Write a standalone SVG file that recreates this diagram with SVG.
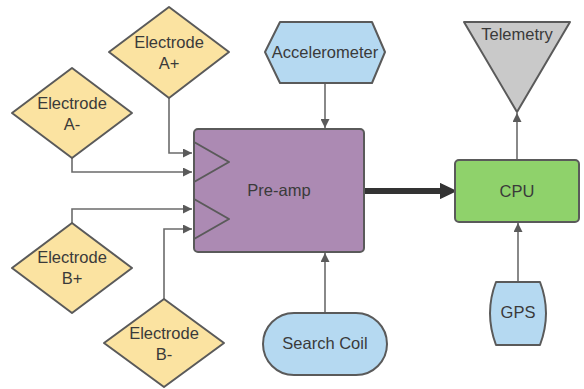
<svg xmlns="http://www.w3.org/2000/svg" width="584" height="389" viewBox="0 0 584 389">
<style>
  .n { stroke: #5a5a5a; stroke-width: 2; stroke-linejoin: round; }
  .dia { fill: #fbe3a1; }
  .blue { fill: #b5d9f1; }
  .t { font-family: "Liberation Sans", Arial, sans-serif; font-size: 16.5px; fill: #3a3a3a; text-anchor: middle; }
  .c { fill: none; stroke: #6b6b6b; stroke-width: 1.6; }
  .thick { fill: none; stroke: #333; stroke-width: 6; }
</style>
<defs>
  <marker id="ah" viewBox="0 0 10 10" refX="10" refY="5" markerWidth="10" markerHeight="9" markerUnits="userSpaceOnUse" orient="auto">
    <path d="M0,0 L10,5 L0,10 z" fill="#5a5a5a"/>
  </marker>
  <marker id="ahb" viewBox="0 0 10 10" refX="0" refY="5" markerWidth="16" markerHeight="17" markerUnits="userSpaceOnUse" orient="auto">
    <path d="M0,0.5 L9.5,5 L0,9.5 z" fill="#333" stroke="#333" stroke-width="1" stroke-linejoin="round"/>
  </marker>
</defs>
<g id="connectors">
  <path class="c" d="M169,98 V153 H192" marker-end="url(#ah)"/>
  <path class="c" d="M72,158 V172 H192" marker-end="url(#ah)"/>
  <path class="c" d="M72,223 V209 H192" marker-end="url(#ah)"/>
  <path class="c" d="M164,299 V229 H192" marker-end="url(#ah)"/>
  <path class="c" d="M325,83 V128" marker-end="url(#ah)"/>
  <path class="c" d="M325,313 V253" marker-end="url(#ah)"/>
  <path class="c" d="M517,160 V113" marker-end="url(#ah)"/>
  <path class="c" d="M518,282 V223" marker-end="url(#ah)"/>
  <path class="thick" d="M365,191 H440" marker-end="url(#ahb)"/>
</g>
<g id="preamp">
  <rect class="n" x="194" y="129" width="170" height="123" rx="4" fill="#ac8ab3"/>
  <path class="n" d="M194,142 L229,162 L194,182" fill="none"/>
  <path class="n" d="M194,199 L229,219 L194,239" fill="none"/>
  <text class="t" x="279" y="196">Pre-amp</text>
</g>
<g id="electrodeAplus">
  <polygon class="n dia" points="169,7 229,52 169,98 109,52"/>
  <text class="t" x="169" y="48">Electrode</text>
  <text class="t" x="169" y="69">A+</text>
</g>
<g id="electrodeAminus">
  <polygon class="n dia" points="72,68 132,113 72,158 12,113"/>
  <text class="t" x="72" y="109">Electrode</text>
  <text class="t" x="72" y="130">A-</text>
</g>
<g id="electrodeBplus">
  <polygon class="n dia" points="72,223 132,268 72,313 12,268"/>
  <text class="t" x="72" y="263">Electrode</text>
  <text class="t" x="72" y="284">B+</text>
</g>
<g id="electrodeBminus">
  <polygon class="n dia" points="164,299 224,343 164,387 104,343"/>
  <text class="t" x="164" y="339">Electrode</text>
  <text class="t" x="164" y="360">B-</text>
</g>
<g id="accelerometer">
  <polygon class="n blue" points="280,22 372,22 385,52 372,83 280,83 265,52"/>
  <text class="t" x="325" y="58">Accelerometer</text>
</g>
<g id="searchcoil">
  <rect class="n blue" x="263" y="313" width="124" height="62" rx="31"/>
  <text class="t" x="325" y="349">Search Coil</text>
</g>
<g id="cpu">
  <rect class="n" x="455" y="160" width="124" height="62" rx="4" fill="#8fd26b"/>
  <text class="t" x="517" y="197" fill="#3d4a3a">CPU</text>
</g>
<g id="telemetry">
  <polygon class="n" points="464,22 570,22 517,112" fill="#c9c9c9"/>
  <text class="t" x="517" y="40">Telemetry</text>
</g>
<g id="gps">
  <path class="n blue" d="M496,282 L540,282 Q552,313 540,345 L496,345 Q484,313 496,282 Z"/>
  <text class="t" x="518" y="318">GPS</text>
</g>
</svg>
